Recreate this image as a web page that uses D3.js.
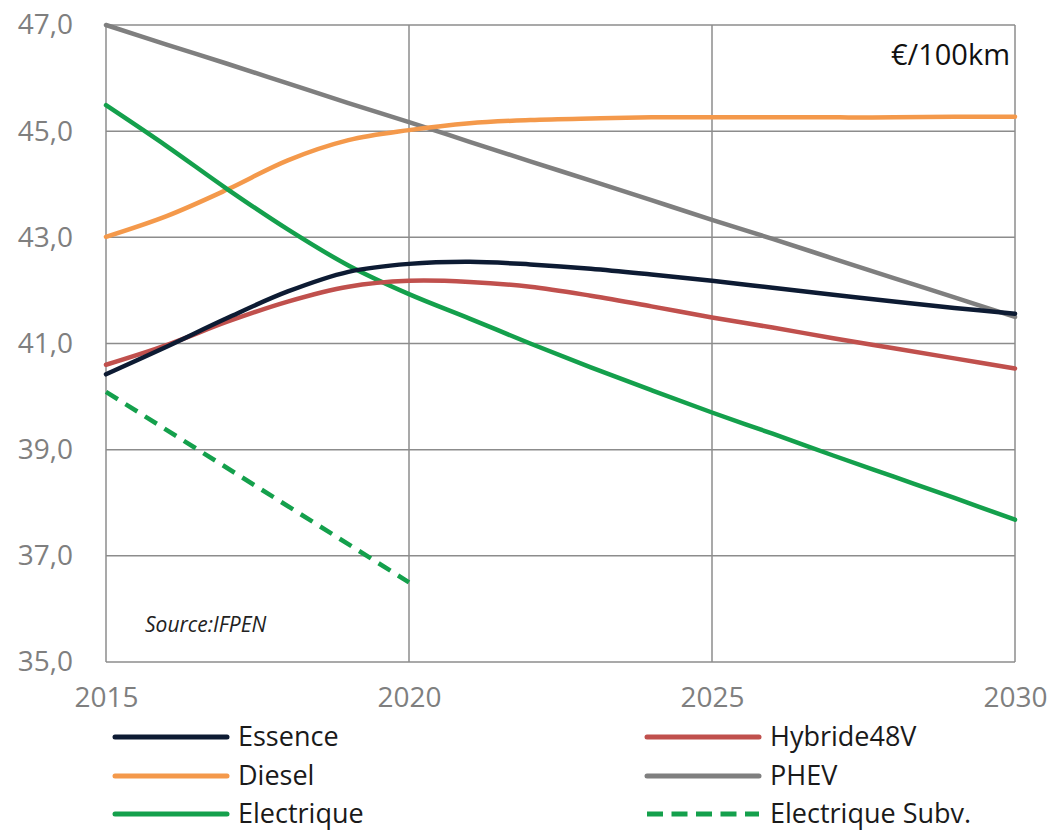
<!DOCTYPE html>
<html><head><meta charset="utf-8">
<script src="https://cdn.jsdelivr.net/npm/d3@7/dist/d3.min.js"></script>
<style>body{margin:0;background:#fff}svg{display:block}</style>
</head><body><svg id="c" width="1056" height="831"></svg>
<script>
const years = [2015,2016,2017,2018,2019,2020,2021,2022,2023,2024,2025,2026,2027,2028,2029,2030];
const essence   = [40.42,40.94,41.48,41.98,42.35,42.50,42.54,42.49,42.41,42.30,42.18,42.05,41.92,41.79,41.67,41.56];
const hybride   = [40.60,40.97,41.41,41.79,42.07,42.18,42.16,42.07,41.90,41.70,41.49,41.30,41.10,40.91,40.72,40.53];
const diesel    = [43.01,43.40,43.90,44.45,44.83,45.02,45.15,45.21,45.24,45.26,45.26,45.26,45.26,45.26,45.27,45.27];
const phev      = [47.00,46.63,46.27,45.90,45.53,45.17,44.80,44.43,44.07,43.70,43.33,42.97,42.60,42.23,41.87,41.50];
const electrique= [45.49,44.72,43.91,43.15,42.47,41.93,41.47,41.00,40.55,40.12,39.70,39.30,38.89,38.49,38.09,37.68];
const subvYears = [2015,2020];
const electriqueSubv = [40.09,36.50];
const yTicks = [35,37,39,41,43,45,47];
const xTicks = [2015,2020,2025,2030];
const seriesNames = ["Essence","Hybride48V","Diesel","PHEV","Electrique","Electrique Subv."];
const colors = ["#0d1b33","#c0504d","#f4994b","#7f7f7f","#14a04c","#14a04c"];

const svg = d3.select("#c");
const x = d3.scaleLinear().domain([2015,2030]).range([106,1015]);
const y = d3.scaleLinear().domain([35,47]).range([662,25]);
const font = "'Open Sans', sans-serif";

// grid
const grid = svg.append("g").attr("stroke","#8c8c8c").attr("stroke-width",1.5);
grid.selectAll(".h").data(yTicks).join("line")
  .attr("x1",x(2015)).attr("x2",x(2030)).attr("y1",d=>y(d)).attr("y2",d=>y(d));
grid.selectAll(".v").data(xTicks).join("line")
  .attr("y1",y(35)).attr("y2",y(47)).attr("x1",d=>x(d)).attr("x2",d=>x(d));

// axes
const yAxis = svg.append("g").attr("transform","translate(106,0)")
  .call(d3.axisLeft(y).tickValues(yTicks).tickSize(0).tickPadding(33)
    .tickFormat(d=>d3.format(".1f")(d).replace(".",",")));
yAxis.select(".domain").remove();
yAxis.selectAll("text").attr("font-family",font).attr("font-size",28).attr("fill","#7f7f7f");

const xAxis = svg.append("g").attr("transform","translate(0,662)")
  .call(d3.axisBottom(x).tickValues(xTicks).tickSize(0).tickPadding(25).tickFormat(d3.format("d")));
xAxis.select(".domain").remove();
xAxis.selectAll("text").attr("font-family",font).attr("font-size",28).attr("fill","#7f7f7f");

// lines
const line = d3.line().x(d=>x(d[0])).y(d=>y(d[1])).curve(d3.curveCatmullRom.alpha(0.5));
const data = [essence,hybride,diesel,phev,electrique];
const order = [3,2,4,1,0];
order.forEach(i=>{
  svg.append("path").datum(years.map((yr,k)=>[yr,data[i][k]]))
    .attr("d",line).attr("fill","none").attr("stroke",colors[i]).attr("stroke-width",4.5)
    .attr("stroke-linecap","round");
});
svg.append("path").datum(subvYears.map((yr,k)=>[yr,electriqueSubv[k]]))
  .attr("d",d3.line().x(d=>x(d[0])).y(d=>y(d[1])))
  .attr("fill","none").attr("stroke",colors[5]).attr("stroke-width",4.5)
  .attr("stroke-dasharray","14,9");

// annotations
svg.append("text").attr("x",1010).attr("y",65).attr("text-anchor","end")
  .attr("font-family",font).attr("font-size",29).attr("fill","#111").text("€/100km");
svg.append("text").attr("x",145).attr("y",632)
  .attr("font-family",font).attr("font-size",21).attr("font-style","italic").attr("fill","#222").text("Source:IFPEN");

// legend
const legPos = [[115,737],[647,737],[115,776],[647,776],[115,814],[647,814]];
seriesNames.forEach((name,i)=>{
  const [lx,ly] = legPos[i];
  svg.append("line").attr("x1",lx).attr("x2",lx+112).attr("y1",ly).attr("y2",ly)
    .attr("stroke",colors[i]).attr("stroke-width",5)
    .attr("stroke-linecap", i===5 ? "butt" : "round")
    .attr("stroke-dasharray", i===5 ? "16,8.5" : null);
  svg.append("text").attr("x",lx+123).attr("y",ly+9)
    .attr("font-family",font).attr("font-size",27).attr("fill","#1a1a1a").text(name);
});
</script></body></html>
